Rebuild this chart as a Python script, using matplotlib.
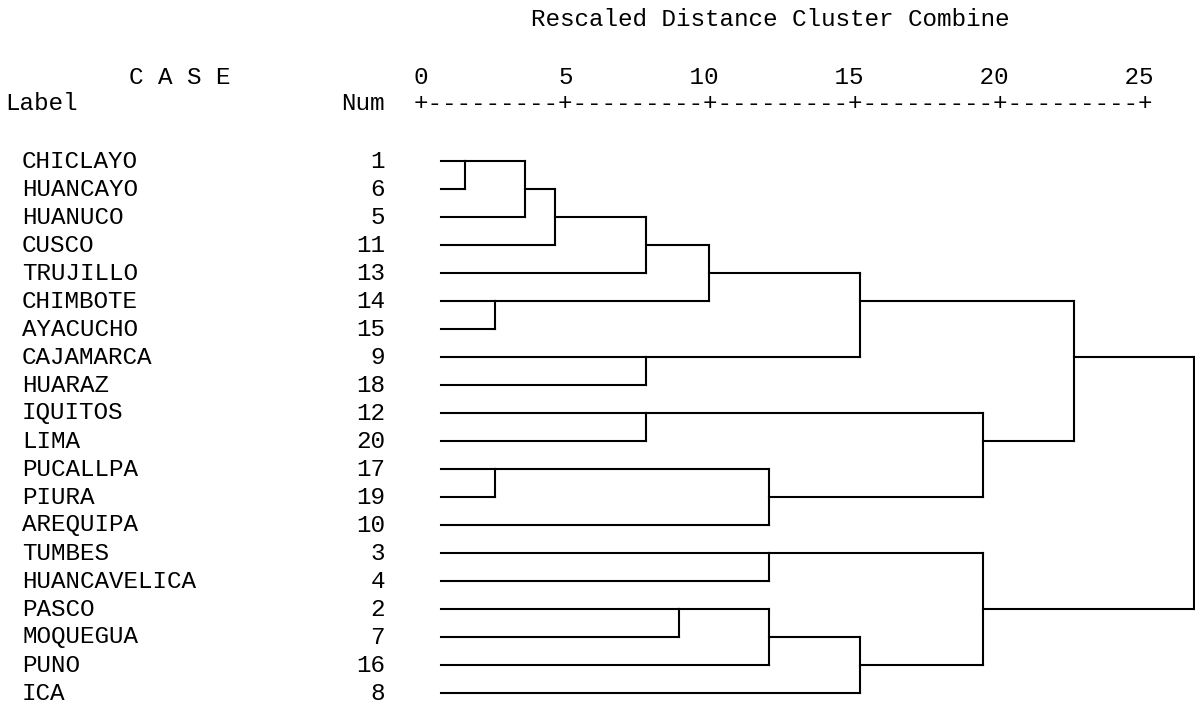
import numpy as np
import matplotlib
matplotlib.use("Agg")
import matplotlib.pyplot as plt
import matplotlib.transforms as mtransforms

plt.rcParams["font.family"] = ["Liberation Mono", "DejaVu Sans Mono"]

# ---- data ----
labels = ["CHICLAYO", "HUANCAYO", "HUANUCO", "CUSCO", "TRUJILLO", "CHIMBOTE",
          "AYACUCHO", "CAJAMARCA", "HUARAZ", "IQUITOS", "LIMA", "PUCALLPA",
          "PIURA", "AREQUIPA", "TUMBES", "HUANCAVELICA", "PASCO", "MOQUEGUA",
          "PUNO", "ICA"]
case_num = [1, 6, 5, 11, 13, 14, 15, 9, 18, 12, 20, 17, 19, 10, 3, 4, 2, 7, 16, 8]

# merges: clusters named by their top row, joined at a rescaled distance
merge_a = [0, 0, 0, 0, 5, 0, 7, 0, 9, 11, 11, 9, 0, 14, 16, 16, 16, 14, 0]
merge_b = [1, 2, 3, 4, 6, 5, 8, 7, 10, 12, 13, 11, 9, 15, 17, 18, 19, 16, 14]
merge_dist = [0.8, 2.8, 3.8, 6.8, 1.8, 8.9, 6.8, 13.9, 6.8, 1.8, 10.9, 18.0,
              21.0, 10.9, 7.9, 10.9, 13.9, 18.0, 25.0]

ticks = [0, 5, 10, 15, 20, 25]

W, H = 1195, 705
fig = plt.figure(figsize=(W / 100, H / 100), dpi=100)
fig.patch.set_facecolor("white")

# tree axes: distance 0..25 spans px 441..1194, rows 0..19 span px 161..693
n = len(labels)
x0, x1 = 441, 1194
y0, y1 = 161, 161 + 28 * (n - 1)
ax = fig.add_axes([x0 / W, 1 - y1 / H, (x1 - x0) / W, (y1 - y0) / H])
ax.set_xlim(0, 25)
ax.set_ylim(n - 1, 0)
ax.axis("off")

FS = 17.5
lw = 1.5
kw = dict(color="black", linewidth=lw, solid_capstyle="projecting", clip_on=False)

out_y = {i: i for i in range(n)}
x_end = {i: 0.0 for i in range(n)}
for a, b, d in zip(merge_a, merge_b, merge_dist):
    ya, yb = out_y[a], out_y[b]
    ax.plot([x_end[a], d], [ya, ya], **kw)
    ax.plot([x_end[b], d], [yb, yb], **kw)
    ax.plot([d, d], [ya, yb], **kw)
    out_y[a] = (ya + yb) // 2
    x_end[a] = d

# row labels and case numbers
tr = mtransforms.blended_transform_factory(fig.transFigure, ax.transData)
for i, (lb, num) in enumerate(zip(labels, case_num)):
    ax.text(22 / W, i, lb, transform=tr, ha="left", va="center", fontsize=FS)
    ax.text(385 / W, i, str(num), transform=tr, ha="right", va="center", fontsize=FS)

# header, laid out like the SPSS text output
tick_line = str(ticks[0]) + "".join(f"{t:>10}" for t in ticks[1:])
plus_line = "+" + "".join("-" * 9 + "+" for _ in ticks[1:])

fig.text(531 / W, 1 - 20 / H, "Rescaled Distance Cluster Combine", ha="left", va="center", fontsize=FS)
fig.text(129 / W, 1 - 77 / H, "C A S E", ha="left", va="center", fontsize=FS)
fig.text(414 / W, 1 - 77 / H, tick_line, ha="left", va="center", fontsize=FS)
fig.text(5 / W, 1 - 104 / H, "Label", ha="left", va="center", fontsize=FS)
fig.text(385 / W, 1 - 104 / H, "Num", ha="right", va="center", fontsize=FS)
fig.text(414 / W, 1 - 104 / H, plus_line, ha="left", va="center", fontsize=FS)

fig.savefig("out.png", dpi=100)
